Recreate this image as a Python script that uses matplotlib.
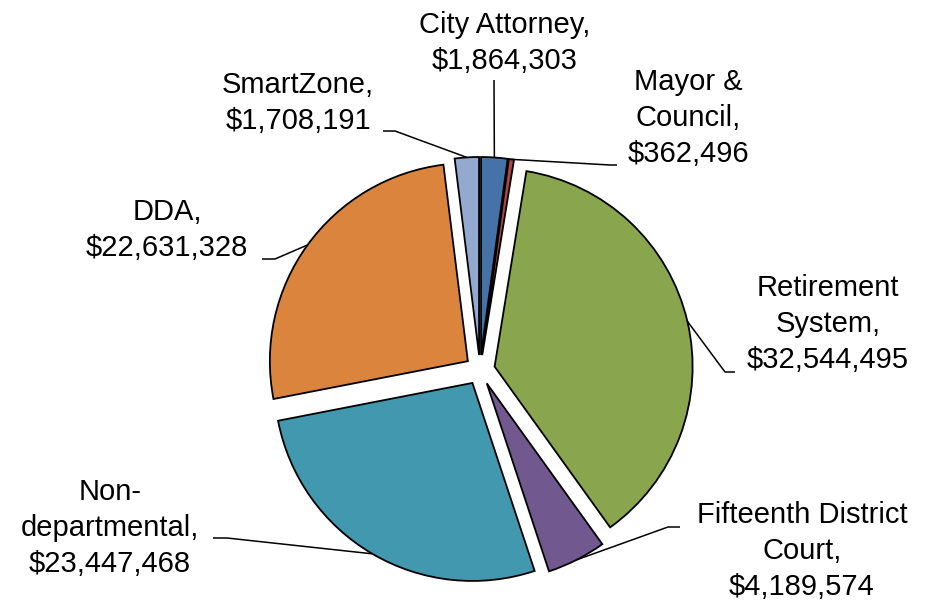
import matplotlib
matplotlib.use("Agg")
import matplotlib.pyplot as plt
import numpy as np

plt.rcParams['font.family'] = ['Liberation Sans', 'DejaVu Sans']

names = ["City Attorney", "Mayor & Council", "Retirement System",
         "Fifteenth District Court", "Non-departmental", "DDA", "SmartZone"]
amounts = [1864303, 362496, 32544495, 4189574, 23447468, 22631328, 1708191]
label_text = ["City Attorney,\n$1,864,303", "Mayor &\nCouncil,\n$362,496",
              "Retirement\nSystem,\n$32,544,495",
              "Fifteenth District\nCourt,\n$4,189,574",
              "Non-\ndepartmental,\n$23,447,468", "DDA,\n$22,631,328",
              "SmartZone,\n$1,708,191"]
colors = ["#4572A7", "#AA4643", "#89A54E", "#71588F", "#4198AF", "#DB843D", "#93A9CF"]

W, H = 925, 606

def px(x, y):
    # pixel position (top-left origin) -> data coords
    return x, H - y

# label centre and leader elbow points (pixel coords)
label_pos = [(505, 43), (688, 118), (828, 324), (802, 551), (110, 528), (167, 230), (298, 103)]
elbows = [[(494, 80)],
          [(617, 165), (610, 165)],
          [(735, 372), (725, 372)],
          [(680, 527), (668, 527)],
          [(213, 538), (227, 538)],
          [(262, 259), (275, 259)],
          [(383, 131), (395, 131)]]

fig = plt.figure(figsize=(W / 100, H / 100), dpi=100)
ax = fig.add_axes([0, 0, 1, 1])

wedges, _ = ax.pie(amounts, colors=colors, startangle=90, counterclock=False,
                   radius=198, center=px(480, 370), explode=[15] * len(amounts),
                   wedgeprops=dict(edgecolor="black", linewidth=1.3))

for w, txt, (lx, ly), pts in zip(wedges, label_text, label_pos, elbows):
    mid = np.deg2rad((w.theta1 + w.theta2) / 2)
    cx, cy = w.center
    ax_x = cx + w.r * np.cos(mid)
    ax_y = cy + w.r * np.sin(mid)
    xs = [px(*p)[0] for p in pts] + [ax_x]
    ys = [px(*p)[1] for p in pts] + [ax_y]
    ax.plot(xs, ys, color="black", lw=1.1, solid_capstyle="butt")
    ax.text(*px(lx, ly), txt, ha="center", va="center", fontsize=21,
            linespacing=1.37, color="black")

ax.set_xlim(0, W)
ax.set_ylim(0, H)
ax.set_aspect("equal")
ax.axis("off")

fig.savefig("out.png", dpi=100, facecolor="white")
